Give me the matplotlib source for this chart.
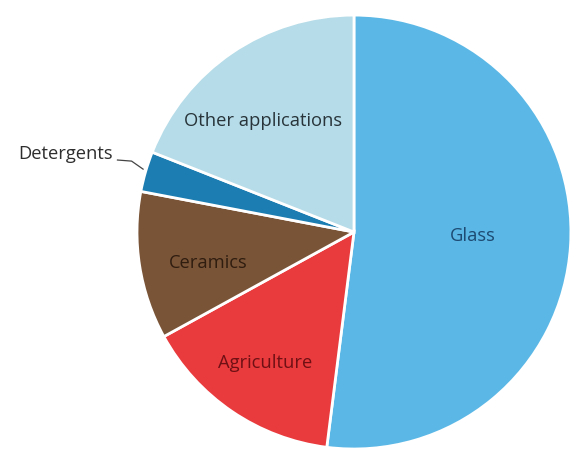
import matplotlib
matplotlib.use("Agg")
import matplotlib.pyplot as plt

# uses of the mineral, share of total consumption (%)
categories = ["Glass", "Agriculture", "Ceramics", "Detergents", "Other applications"]
shares = [52, 15, 11, 3, 19]

slice_colors = ["#5bb8e6", "#e93a3d", "#7a5437", "#1b7db1", "#b5dce8"]
text_colors = ["#1d4a72", "#6e1014", "#2f1d10", "#2e2e2e", "#28343a"]

plt.rcParams["font.family"] = ["Open Sans", "DejaVu Sans"]

fig = plt.figure(figsize=(5.71, 4.52), dpi=100)
ax = fig.add_axes([0.2399, 0.0044, 0.760, 0.960])

ax.pie(shares, colors=slice_colors, startangle=90, counterclock=False,
       wedgeprops={"edgecolor": "white", "linewidth": 2})
ax.set_xlim(-1, 1)
ax.set_ylim(-1, 1)
ax.set_aspect("equal")
ax.axis("off")

# label spots inside each slice
label_pos = {
    "Glass": (0.55, -0.015),
    "Agriculture": (-0.41, -0.60),
    "Ceramics": (-0.67, -0.14),
    "Other applications": (-0.42, 0.515),
}
for name, color in zip(categories, text_colors):
    if name in label_pos:
        x, y = label_pos[name]
        ax.text(x, y, name, ha="center", va="center", fontsize=13.2, color=color)

# the thin detergents slice gets an outside label with a leader line
ax.text(-1.11, 0.365, "Detergents", ha="right", va="center", fontsize=13.2,
        color="#2e2e2e", clip_on=False)
ax.plot([-1.09, -1.025, -0.972], [0.332, 0.327, 0.29], color="#444444",
        linewidth=0.9, clip_on=False)

fig.savefig("out.png", dpi=100)
